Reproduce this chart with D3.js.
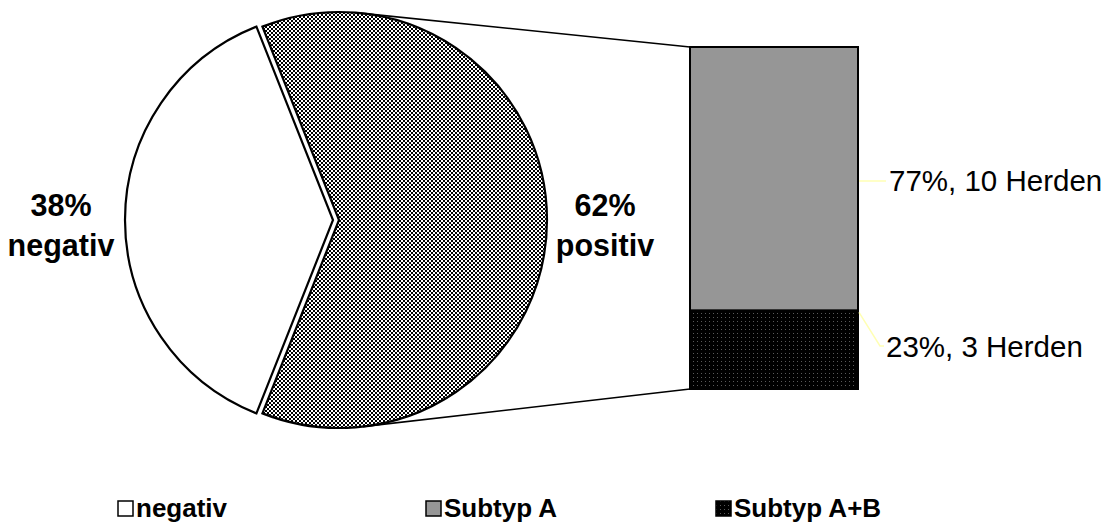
<!DOCTYPE html>
<html>
<head>
<meta charset="utf-8">
<script src="https://cdn.jsdelivr.net/npm/d3@7/dist/d3.min.js"></script>
<style>
  html, body { margin: 0; padding: 0; background: #fff; }
  svg { display: block; font-family: Arial, "Liberation Sans", sans-serif; }
</style>
</head>
<body>
<svg id="chart" width="1115" height="524"></svg>
<script>
// Herd test results: negative vs positive, positives split by subtype
const pieCategories = ["negativ", "positiv"];
const pieValues = [38, 62];
const pieLabels = ["38%", "62%"];

const barCategories = ["Subtyp A+B", "Subtyp A"];   // bottom to top
const barValues = [23, 77];
const barHerds = [3, 10];

const legendLabels = ["negativ", "Subtyp A", "Subtyp A+B"];

const svg = d3.select("#chart");

// Fill patterns
const defs = svg.append("defs");
const dots = defs.append("pattern").attr("id", "checker")
  .attr("patternUnits", "userSpaceOnUse").attr("width", 4).attr("height", 4);
dots.append("rect").attr("width", 4).attr("height", 4).attr("fill", "#fff");
dots.append("rect").attr("width", 2).attr("height", 2).attr("fill", "#000");
dots.append("rect").attr("x", 2).attr("y", 2).attr("width", 2).attr("height", 2).attr("fill", "#000");

const darkDots = defs.append("pattern").attr("id", "darkdots")
  .attr("patternUnits", "userSpaceOnUse").attr("width", 4).attr("height", 4);
darkDots.append("rect").attr("width", 4).attr("height", 4).attr("fill", "#000");
darkDots.append("rect").attr("x", 1).attr("y", 1).attr("width", 1).attr("height", 1).attr("fill", "#5a5a5a");

const pieFills = ["#ffffff", "url(#checker)"];
const barFills = ["url(#darkdots)", "#969696"];
const legendFills = ["#ffffff", "#969696", "url(#darkdots)"];

// Pie: the negative slice faces left, the positive slice faces the bar
const cx = 339, cy = 220, R = 208, explode = 6;
const negShare = pieValues[0] / d3.sum(pieValues);
const start = 1.5 * Math.PI - Math.PI * negShare;
const pie = d3.pie().sort(null).startAngle(start).endAngle(start + 2 * Math.PI);
const arcs = pie(pieValues);
const arc = d3.arc().innerRadius(0).outerRadius(R);

const pieG = svg.append("g");
pieG.selectAll("path").data(arcs).join("path")
  .attr("transform", (d, i) => {
    if (i !== 0) return `translate(${cx},${cy})`;
    const mid = (d.startAngle + d.endAngle) / 2;
    return `translate(${cx + explode * Math.sin(mid)},${cy - explode * Math.cos(mid)})`;
  })
  .attr("d", arc)
  .attr("fill", (d, i) => pieFills[i])
  .attr("stroke", "#000")
  .attr("stroke-width", 2.2)
  .attr("stroke-linejoin", "miter");

// Stacked bar for the positive herds
const barX = 690, barW = 168, barTop = 47, barBottom = 389;
const y = d3.scaleLinear().domain([0, d3.sum(barValues)]).range([barBottom, barTop]);
const stack = [];
let acc = 0;
barValues.forEach((v, i) => { stack.push({ y0: acc, y1: acc + v, i }); acc += v; });

// Connector lines tangent to the pie, to the bar corners
function tangentPoint(px, py, upper) {
  const dx = px - cx, dy = py - cy;
  const d = Math.hypot(dx, dy);
  const theta = Math.atan2(dy, dx);
  const a = Math.acos(R / d);
  const t = upper ? theta - a : theta + a;
  return [cx + R * Math.cos(t), cy + R * Math.sin(t)];
}
const tTop = tangentPoint(barX, y(d3.sum(barValues)), true);
const tBot = tangentPoint(barX, y(0), false);
svg.append("line").attr("x1", tTop[0]).attr("y1", tTop[1])
  .attr("x2", barX).attr("y2", y(d3.sum(barValues)))
  .attr("stroke", "#000").attr("stroke-width", 1.6);
svg.append("line").attr("x1", tBot[0]).attr("y1", tBot[1])
  .attr("x2", barX).attr("y2", y(0))
  .attr("stroke", "#000").attr("stroke-width", 1.6);

svg.append("g").selectAll("rect").data(stack).join("rect")
  .attr("x", barX).attr("width", barW)
  .attr("y", d => y(d.y1)).attr("height", d => y(d.y0) - y(d.y1))
  .attr("fill", d => barFills[d.i])
  .attr("stroke", "#000").attr("stroke-width", 2);

// Bar value labels with leader lines
const leader = "#ffffb4";
svg.append("line").attr("x1", barX + barW + 1).attr("y1", 181)
  .attr("x2", 886).attr("y2", 181)
  .attr("stroke", leader).attr("stroke-width", 1.5);
svg.append("text").attr("x", 889).attr("y", 191)
  .attr("font-size", 29.5).attr("fill", "#000")
  .text(`${barValues[1]}%, ${barHerds[1]} Herden`);

const splitY = y(stack[0].y1);
svg.append("polyline")
  .attr("points", `${barX + barW + 1},${splitY + 2} ${880},${346} ${884},${346}`)
  .attr("fill", "none").attr("stroke", leader).attr("stroke-width", 1.5);
svg.append("text").attr("x", 886).attr("y", 357)
  .attr("font-size", 29.5).attr("fill", "#000")
  .text(`${barValues[0]}%, ${barHerds[0]} Herden`);

// Pie labels
const pieLabelPos = [61, 605];
pieCategories.forEach((c, i) => {
  const t = svg.append("text").attr("text-anchor", "middle")
    .attr("font-size", 30.5).attr("font-weight", "bold").attr("fill", "#000");
  t.append("tspan").attr("x", pieLabelPos[i]).attr("y", 216).text(pieLabels[i]);
  t.append("tspan").attr("x", pieLabelPos[i]).attr("y", 256).text(c);
});

// Legend
const legendX = [117, 425, 715];
const lg = svg.append("g").selectAll("g").data(legendLabels).join("g")
  .attr("transform", (d, i) => `translate(${legendX[i]},500)`);
lg.append("rect").attr("x", 1).attr("y", 1).attr("width", 15).attr("height", 15)
  .attr("fill", (d, i) => legendFills[i]).attr("stroke", "#000").attr("stroke-width", 1.5);
lg.append("text").attr("x", 19).attr("y", 16.5)
  .attr("font-size", 26).attr("font-weight", "bold").attr("fill", "#000")
  .text(d => d);
</script>
</body>
</html>
